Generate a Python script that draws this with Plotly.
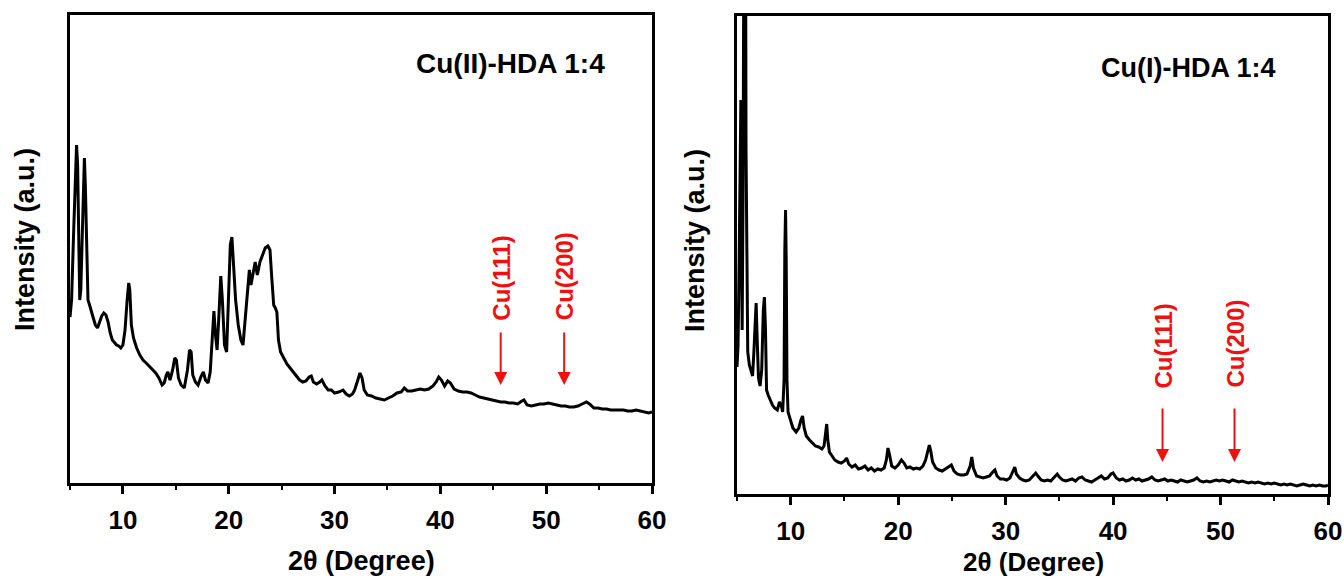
import plotly.graph_objects as go

# ---------------- data ----------------
two_theta_cu2 = [5.00, 5.15, 5.35, 5.50, 5.62, 5.72, 5.82, 5.92, 6.02, 6.15, 6.28, 6.36, 6.45, 6.58, 6.70, 6.85,
                 7.00, 7.20, 7.40, 7.60, 7.80, 8.00, 8.20, 8.40, 8.60, 8.80, 9.00, 9.20, 9.40, 9.60, 9.80, 10.00,
                 10.20, 10.40, 10.55, 10.65, 10.80, 11.00, 11.30, 11.60, 11.90, 12.20, 12.50, 12.80, 13.10, 13.40,
                 13.70, 13.90, 14.10, 14.25, 14.45, 14.70, 14.90, 15.05, 15.25, 15.50, 15.80, 16.10, 16.30, 16.45,
                 16.60, 16.85, 17.10, 17.40, 17.60, 17.80, 18.05, 18.25, 18.45, 18.60, 18.75, 18.90, 19.05, 19.25,
                 19.40, 19.60, 19.80, 20.00, 20.15, 20.30, 20.45, 20.65, 20.90, 21.15, 21.35, 21.55, 21.80, 21.95,
                 22.10, 22.30, 22.50, 22.70, 22.95, 23.20, 23.45, 23.70, 23.90, 24.05, 24.25, 24.40, 24.55, 24.70,
                 24.90, 25.20, 25.50, 25.80, 26.10, 26.40, 26.70, 27.00, 27.30, 27.60, 27.80, 28.00, 28.30, 28.60,
                 28.80, 29.10, 29.40, 29.70, 30.00, 30.40, 30.80, 31.10, 31.40, 31.70, 31.90, 32.20, 32.40, 32.60,
                 32.80, 33.10, 33.50, 33.90, 34.30, 34.70, 35.10, 35.50, 35.90, 36.30, 36.60, 36.90, 37.30, 37.70,
                 38.10, 38.50, 38.90, 39.30, 39.60, 39.85, 40.10, 40.40, 40.70, 40.95, 41.30, 41.70, 42.10, 42.50,
                 42.90, 43.30, 43.70, 44.10, 44.50, 44.90, 45.30, 45.70, 46.10, 46.50, 46.90, 47.30, 47.70, 47.90,
                 48.20, 48.60, 49.00, 49.40, 49.80, 50.20, 50.60, 51.00, 51.40, 51.80, 52.20, 52.60, 53.00, 53.40,
                 53.80, 54.10, 54.50, 54.90, 55.30, 55.70, 56.10, 56.50, 56.90, 57.30, 57.70, 58.10, 58.50, 58.90,
                 59.30, 59.70, 60.00]
intensity_cu2 = [166, 183, 253, 313, 338, 318, 243, 183, 193, 253, 318, 325, 298, 218, 183, 178,
                 171, 165, 158, 155, 161, 167, 170, 168, 161, 150, 143, 140, 138, 137, 135, 138,
                 153, 183, 200, 193, 158, 145, 135, 128, 123, 120, 117, 113, 110, 105,
                 98, 100, 108, 111, 103, 113, 125, 123, 105, 98, 95, 113, 133, 131,
                 108, 101, 98, 107, 111, 103, 100, 111, 148, 172, 148, 133, 163, 207,
                 183, 138, 131, 183, 238, 246, 221, 183, 158, 143, 138, 163, 203, 213,
                 198, 211, 221, 208, 221, 228, 235, 237, 233, 208, 178, 175, 171, 143,
                 131, 125, 119, 115, 111, 107, 103, 101, 102, 106, 107, 101, 99, 101,
                 103, 97, 93, 93, 90, 91, 93, 89, 87, 89, 93, 103, 110, 105,
                 93, 88, 87, 85, 84, 83, 85, 87, 90, 91, 95, 92, 92, 93,
                 94, 93, 94, 97, 101, 106, 103, 97, 102, 100, 94, 92, 91, 91,
                 90, 88, 86, 85, 84, 83, 82, 81, 81, 80, 80, 79, 82, 83,
                 78, 77, 78, 79, 79, 80, 79, 78, 77, 77, 76, 76, 77, 79,
                 81, 79, 75, 75, 74, 74, 73, 73, 73, 73, 72, 72, 73, 72,
                 71, 70, 71]

two_theta_cu1 = [5.00, 5.10, 5.20, 5.30, 5.36, 5.42, 5.48, 5.56, 5.66, 5.74, 5.84, 5.92, 6.00, 6.15, 6.30, 6.45,
                 6.58, 6.70, 6.78, 6.88, 7.00, 7.15, 7.30, 7.45, 7.55, 7.65, 7.75, 7.90, 8.10, 8.30, 8.50, 8.75,
                 8.95, 9.10, 9.25, 9.38, 9.45, 9.52, 9.58, 9.65, 9.75, 9.95, 10.20, 10.50, 10.75, 10.95, 11.10,
                 11.25, 11.45, 11.75, 12.00, 12.30, 12.60, 12.90, 13.10, 13.25, 13.35, 13.45, 13.60, 13.85, 14.10,
                 14.40, 14.70, 15.00, 15.20, 15.40, 15.70, 16.00, 16.30, 16.60, 16.90, 17.20, 17.50, 17.80, 18.10,
                 18.40, 18.70, 18.90, 19.05, 19.20, 19.40, 19.70, 20.00, 20.30, 20.55, 20.80, 21.10, 21.40, 21.70,
                 22.00, 22.30, 22.55, 22.75, 22.90, 23.05, 23.20, 23.50, 23.80, 24.10, 24.40, 24.70, 24.95, 25.20,
                 25.50, 25.80, 26.10, 26.40, 26.70, 26.85, 27.00, 27.30, 27.60, 27.90, 28.20, 28.50, 28.80, 29.00,
                 29.20, 29.50, 29.80, 30.10, 30.40, 30.65, 30.85, 31.00, 31.30, 31.60, 31.90, 32.20, 32.50, 32.80,
                 33.00, 33.30, 33.60, 33.90, 34.20, 34.50, 34.80, 35.00, 35.30, 35.60, 35.90, 36.20, 36.50, 36.80,
                 37.10, 37.40, 37.70, 38.00, 38.30, 38.60, 38.90, 39.20, 39.50, 39.80, 40.00, 40.30, 40.60, 40.90,
                 41.20, 41.50, 41.80, 42.10, 42.40, 42.70, 43.00, 43.30, 43.60, 43.90, 44.20, 44.50, 44.80, 45.10,
                 45.40, 45.70, 46.00, 46.30, 46.60, 46.90, 47.20, 47.50, 47.80, 48.10, 48.40, 48.70, 49.00, 49.30,
                 49.60, 49.90, 50.20, 50.50, 50.80, 51.10, 51.40, 51.70, 52.00, 52.30, 52.60, 52.90, 53.20, 53.50,
                 53.80, 54.10, 54.40, 54.70, 55.00, 55.30, 55.60, 55.90, 56.20, 56.50, 56.80, 57.10, 57.40, 57.70,
                 58.00, 58.30, 58.60, 58.90, 59.20, 59.50, 59.80, 60.00]
intensity_cu1 = [127, 149, 234, 384, 394, 244, 164, 294, 894, 894, 344, 174, 142, 129, 122, 118,
                 144, 186, 191, 154, 116, 108, 124, 184, 197, 164, 104, 99, 94, 89, 86, 84,
                 92, 89, 82, 114, 244, 284, 234, 114, 82, 74, 66, 62, 66, 74, 78,
                 66, 58, 54, 51, 48, 47, 45, 48, 62, 70, 54, 42, 38, 34,
                 32, 31, 33, 36, 30, 27, 29, 25, 26, 28, 24, 26, 23, 25,
                 24, 26, 34, 46, 39, 28, 26, 29, 34, 31, 26, 27, 25, 26,
                 25, 28, 34, 44, 49, 42, 32, 26, 24, 23, 25, 27, 29, 23,
                 20, 19, 19, 20, 28, 37, 26, 18, 17, 16, 17, 18, 22, 24,
                 18, 15, 15, 14, 16, 22, 27, 20, 16, 14, 13, 14, 17, 21,
                 18, 14, 13, 14, 13, 16, 20, 17, 14, 13, 14, 15, 13, 16,
                 17, 14, 13, 12, 14, 16, 18, 15, 16, 20, 21, 16, 14, 15,
                 13, 14, 16, 14, 15, 13, 14, 15, 17, 14, 13, 14, 15, 13,
                 14, 13, 12, 14, 13, 12, 13, 14, 16, 13, 12, 13, 12, 13,
                 14, 13, 14, 13, 12, 14, 13, 12, 13, 12, 11, 12, 11, 12,
                 11, 10, 11, 10, 11, 10, 9, 10, 9, 10, 9, 8, 9, 10,
                 9, 8, 9, 8, 9, 8, 8, 9]

panel_labels = ["Cu(II)-HDA 1:4", "Cu(I)-HDA 1:4"]
cu_peaks = ["Cu(111)", "Cu(200)"]
cu_peak_pos_left = [45.7, 51.7]
cu_peak_pos_right = [44.6, 51.3]
x_tick_vals = [10, 20, 30, 40, 50, 60]
x_minor_vals = [5, 15, 25, 35, 45, 55]
x_title = "2\u03b8 (Degree)"
y_title = "Intensity (a.u.)"

# ---------------- figure ----------------
W, H = 1344, 577
FONT = "Liberation Sans, Arial, sans-serif"
RED = "#f01010"

fig = go.Figure()
fig.add_trace(go.Scatter(x=two_theta_cu2, y=intensity_cu2, mode="lines",
                         line=dict(color="black", width=3), xaxis="x", yaxis="y",
                         showlegend=False, hoverinfo="skip"))
fig.add_trace(go.Scatter(x=two_theta_cu1, y=intensity_cu1, mode="lines",
                         line=dict(color="black", width=3), xaxis="x2", yaxis="y2",
                         showlegend=False, hoverinfo="skip"))


def xaxis_style(domain, anchor):
    return dict(domain=domain, anchor=anchor, range=[5, 60], tickvals=x_tick_vals,
                showline=True, mirror=True, linecolor="black", linewidth=2.5,
                ticks="outside", ticklen=8, tickwidth=2.5, tickcolor="black",
                ticklabelstandoff=4,
                minor=dict(tickvals=x_minor_vals, ticks="outside", ticklen=4,
                           tickwidth=2, tickcolor="black"),
                showgrid=False, zeroline=False,
                tickfont=dict(family=FONT, size=26, color="black", weight="bold"))


def yaxis_style(domain, anchor, top):
    return dict(domain=domain, anchor=anchor, range=[0, top], showticklabels=False,
                ticks="", showline=True, mirror=True, linecolor="black", linewidth=2.5,
                showgrid=False, zeroline=False)


fig.update_layout(
    width=W, height=H, margin=dict(l=0, r=0, t=0, b=0, autoexpand=False),
    paper_bgcolor="white", plot_bgcolor="white",
    xaxis=xaxis_style([70 / W, 652 / W], "y"),
    yaxis=yaxis_style([(H - 483) / H, (H - 15) / H], "x", 468),
    xaxis2=xaxis_style([737 / W, 1328 / W], "y2"),
    yaxis2=yaxis_style([(H - 494) / H, (H - 16) / H], "x2", 478),
)

ann = []


def txt(text, xref, yref, x, y, size, color="black", angle=0):
    return dict(text=text, xref=xref, yref=yref, x=x, y=y, textangle=angle,
                xanchor="center", yanchor="middle", showarrow=False,
                font=dict(family=FONT, size=size, color=color, weight="bold"))


# axis titles
ann.append(txt(x_title, "paper", "paper", 361 / W, (H - 561) / H, 27))
ann.append(txt(x_title, "paper", "paper", 1033 / W, (H - 562) / H, 26))
ann.append(txt(y_title, "paper", "paper", 25 / W, (H - 240) / H, 27, angle=-90))
ann.append(txt(y_title, "paper", "paper", 695 / W, (H - 241) / H, 27, angle=-90))
# panel labels
ann.append(txt(panel_labels[0], "x", "y", 46.6, 420, 28))
ann.append(txt(panel_labels[1], "x2", "y2", 47.0, 426, 27))

# Cu reference markers, left panel
for name, pos, ytxt in zip(cu_peaks, cu_peak_pos_left, [205, 207]):
    ann.append(txt(name, "x", "y", pos, ytxt, 24, color=RED, angle=-90))
    ann.append(dict(text="", xref="x", yref="y", x=pos, y=98, axref="x", ayref="y", ax=pos, ay=152,
                    showarrow=True, arrowhead=2, arrowsize=1.3, arrowwidth=2, arrowcolor=RED))
# Cu reference markers, right panel
for name, pos, ytxt in zip(cu_peaks, cu_peak_pos_right, [148, 150]):
    ann.append(txt(name, "x2", "y2", pos, ytxt, 24, color=RED, angle=-90))
    ann.append(dict(text="", xref="x2", yref="y2", x=pos, y=32, axref="x2", ayref="y2", ax=pos, ay=87,
                    showarrow=True, arrowhead=2, arrowsize=1.3, arrowwidth=2, arrowcolor=RED))

fig.update_layout(annotations=ann)
# remove the default page margin so the 1344x577 figure fills the window exactly
fig.write_html("out.html", config={"displayModeBar": False},
               post_script="document.body.style.margin='0px';document.body.style.overflow='hidden';")
